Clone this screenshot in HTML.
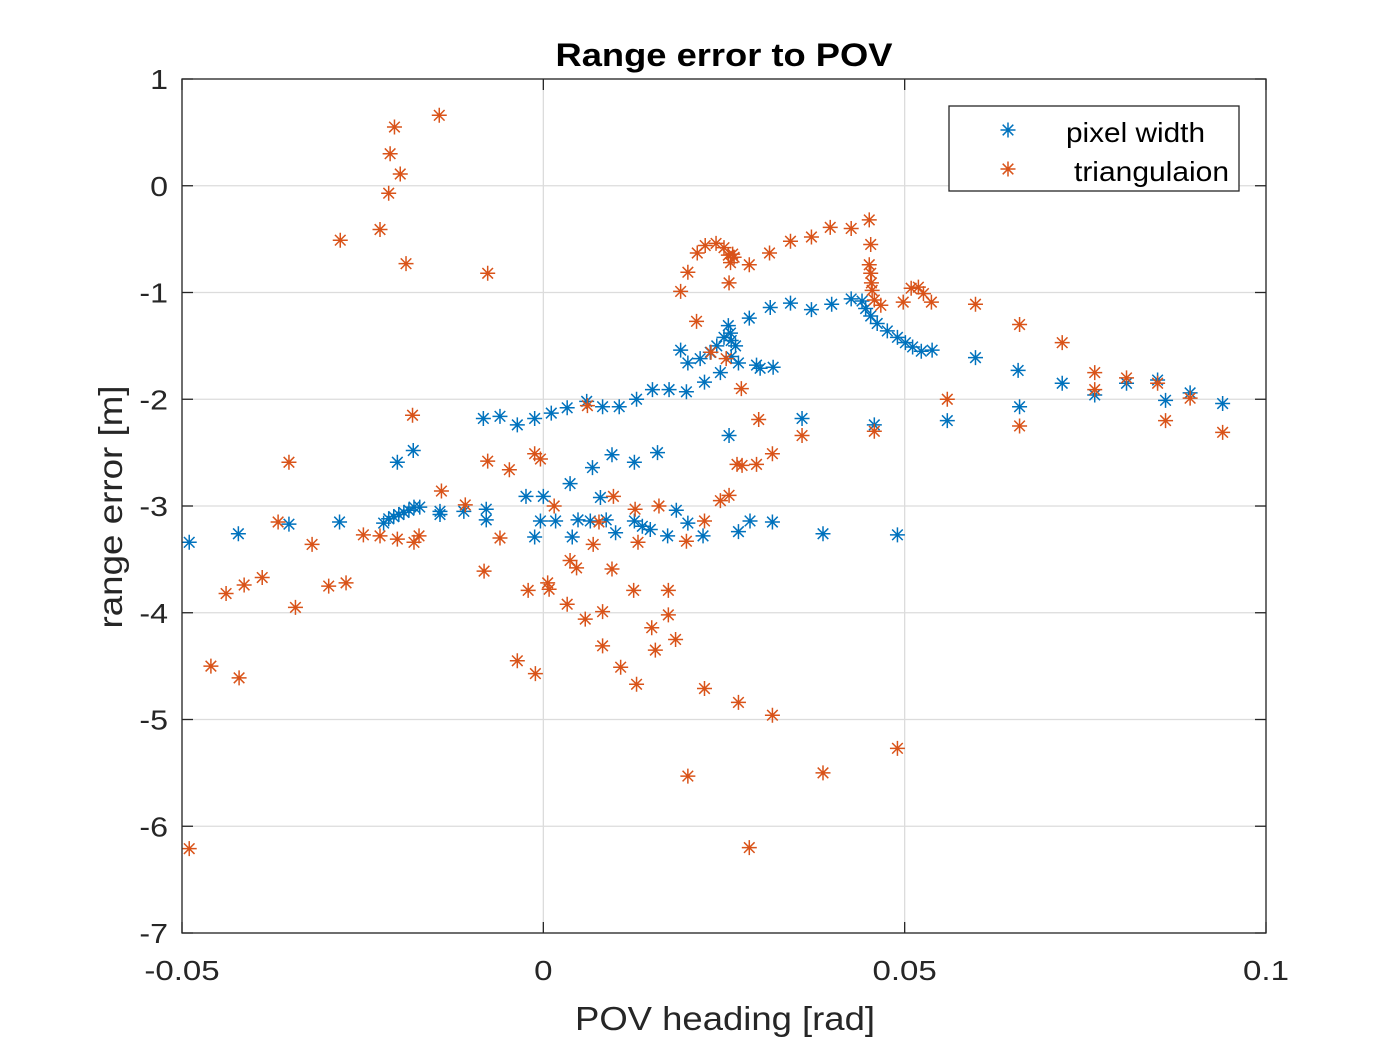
<!DOCTYPE html>
<html><head><meta charset="utf-8"><style>
html,body{margin:0;padding:0;background:#fff;}
svg{display:block;font-family:"Liberation Sans",Arial,sans-serif;}
</style></head><body>
<svg id="chart" width="1400" height="1050">
<rect x="0" y="0" width="1400" height="1050" fill="#fff"/>
<rect x="182" y="79" width="1084" height="854" fill="#fff" stroke="none"/>
<g id="grid"></g>
<g id="pts"></g>
<rect x="182" y="79" width="1084" height="854" fill="none" stroke="#262626" stroke-width="1.3"/>
<g id="ticks"></g>
<text x="724" y="66" text-anchor="middle" font-size="32" font-weight="bold" fill="#000" textLength="337" lengthAdjust="spacingAndGlyphs">Range error to POV</text>
<text x="725" y="1030" text-anchor="middle" font-size="33" fill="#262626" textLength="300" lengthAdjust="spacingAndGlyphs">POV heading [rad]</text>
<text transform="translate(122,507) rotate(-90)" text-anchor="middle" font-size="33" fill="#262626" textLength="243" lengthAdjust="spacingAndGlyphs">range error [m]</text>
<g>
<rect x="949" y="106" width="290" height="85" fill="#fff" stroke="#262626" stroke-width="1.3"/>
<g id="leg"></g>
<text x="1066" y="142" font-size="28" fill="#000" textLength="139" lengthAdjust="spacingAndGlyphs">pixel width</text>
<text x="1074" y="181" font-size="28" fill="#000" textLength="155" lengthAdjust="spacingAndGlyphs">triangulaion</text>
</g>
</svg>
<script>
const xTicks=[-0.05,0,0.05,0.1];
const xTickLabels=["-0.05","0","0.05","0.1"];
const yTicks=[1,0,-1,-2,-3,-4,-5,-6,-7];
const yTickLabels=["1","0","-1","-2","-3","-4","-5","-6","-7"];
const pixelX=[-0.049,-0.0422,-0.0352,-0.0282,-0.0221,-0.0214,-0.0207,-0.02,-0.0193,-0.0186,-0.0179,-0.0171,-0.0202,-0.018,-0.0143,-0.0143,-0.011,-0.0079,-0.0079,-0.0083,-0.006,-0.0036,-0.0012,0.0011,0.0033,0.006,0.0082,0.0105,0.0129,0.0151,0.0174,0.0198,0.019,0.02,0.0217,0.0223,0.0231,0.024,0.0245,0.025,0.0256,0.0259,0.026,0.0266,0.026,0.027,0.0285,0.0295,0.03,0.0314,0.0318,0.0342,0.0371,0.0399,0.0426,0.0441,0.0446,0.0453,0.0462,0.0476,0.049,0.0501,0.0511,0.0523,0.0538,0.0598,0.0657,0.0718,0.0763,0.0807,0.085,0.0861,0.0895,0.094,-0.0024,0,-0.0012,-0.0004,0.0017,0.0037,0.004,0.0048,0.0065,0.0068,0.0079,0.0087,0.0095,0.01,0.0126,0.0126,0.0137,0.0148,0.0158,0.0172,0.0184,0.02,0.0221,0.0257,0.027,0.0286,0.0317,0.0358,0.0387,0.0458,0.049,0.0559,0.0659];
const pixelY=[-3.34,-3.26,-3.17,-3.15,-3.16,-3.12,-3.1,-3.08,-3.06,-3.04,-3.01,-3.01,-2.59,-2.48,-3.05,-3.08,-3.05,-3.03,-3.13,-2.18,-2.16,-2.24,-2.18,-2.13,-2.08,-2.02,-2.07,-2.07,-2.0,-1.91,-1.91,-1.93,-1.54,-1.66,-1.62,-1.84,-1.56,-1.5,-1.75,-1.42,-1.31,-1.38,-1.45,-1.5,-1.6,-1.66,-1.24,-1.68,-1.71,-1.14,-1.7,-1.1,-1.16,-1.11,-1.06,-1.08,-1.15,-1.22,-1.29,-1.36,-1.42,-1.47,-1.51,-1.55,-1.54,-1.61,-1.73,-1.85,-1.96,-1.85,-1.82,-2.01,-1.94,-2.04,-2.91,-2.91,-3.29,-3.14,-3.14,-2.79,-3.29,-3.13,-3.14,-2.64,-2.92,-3.13,-2.52,-3.25,-2.59,-3.14,-3.19,-3.22,-2.5,-3.28,-3.04,-3.16,-3.28,-2.34,-3.24,-3.14,-3.15,-2.18,-3.26,-2.24,-3.27,-2.2,-2.07];
const triX=[-0.049,-0.046,-0.0421,-0.0439,-0.0414,-0.0389,-0.0367,-0.0352,-0.0343,-0.032,-0.0297,-0.0273,-0.0281,-0.0249,-0.0226,-0.0226,-0.0214,-0.0212,-0.0206,-0.0198,-0.0202,-0.019,-0.0181,-0.0179,-0.0172,-0.0141,-0.0144,-0.0108,-0.0077,-0.0082,-0.0077,-0.006,-0.0047,-0.0036,-0.0021,-0.0012,-0.0004,-0.0011,0.0006,0.0008,0.0015,0.0033,0.0037,0.0046,0.0058,0.0061,0.0069,0.0077,0.0082,0.0082,0.0097,0.0095,0.0107,0.0125,0.0127,0.0131,0.0129,0.015,0.0155,0.016,0.0173,0.0173,0.0183,0.019,0.02,0.0198,0.02,0.0212,0.0213,0.0224,0.0223,0.0223,0.0232,0.0239,0.0245,0.025,0.0253,0.0256,0.0259,0.0262,0.0264,0.0257,0.0257,0.0268,0.0274,0.027,0.0275,0.0285,0.0285,0.0295,0.0298,0.0313,0.0317,0.0317,0.0342,0.0358,0.0371,0.0387,0.0397,0.0426,0.0451,0.0453,0.0451,0.0453,0.0454,0.0455,0.0458,0.0458,0.0467,0.049,0.0498,0.0509,0.0519,0.0526,0.0537,0.0559,0.0598,0.0659,0.0659,0.0718,0.0763,0.0763,0.0807,0.085,0.0861,0.0895,0.094];
const triY=[-6.21,-4.5,-4.61,-3.82,-3.74,-3.67,-3.15,-2.59,-3.95,-3.36,-3.75,-3.72,-0.51,-3.27,-0.41,-3.28,-0.07,0.3,0.55,0.11,-3.31,-0.73,-2.15,-3.34,-3.28,-2.86,0.66,-2.99,-0.82,-3.61,-2.58,-3.3,-2.66,-4.45,-3.79,-2.51,-2.56,-4.57,-3.72,-3.78,-3.0,-3.92,-3.51,-3.58,-4.06,-2.06,-3.36,-3.15,-3.99,-4.31,-2.91,-3.59,-4.51,-3.79,-3.03,-3.34,-4.67,-4.14,-4.35,-3.0,-3.79,-4.02,-4.25,-0.99,-0.81,-3.33,-5.53,-1.27,-0.63,-0.56,-3.14,-4.71,-1.56,-0.54,-2.95,-0.58,-1.62,-0.65,-0.72,-0.64,-0.67,-0.91,-2.9,-2.61,-1.9,-4.84,-2.62,-0.74,-6.2,-2.61,-2.19,-0.63,-2.51,-4.96,-0.52,-2.34,-0.48,-5.5,-0.39,-0.4,-0.32,-0.55,-0.74,-0.82,-0.91,-0.98,-1.07,-2.3,-1.12,-5.27,-1.09,-0.96,-0.95,-1.01,-1.09,-2.0,-1.11,-1.3,-2.25,-1.47,-1.75,-1.91,-1.8,-1.85,-2.2,-1.99,-2.31];
const NS="http://www.w3.org/2000/svg";
const X0=182,X1=1266,Y0=933,Y1=79;
function sx(v){return X0+(v-(-0.05))/(0.1-(-0.05))*(X1-X0);}
function sy(v){return Y0-(v-(-7))/(1-(-7))*(Y0-Y1);}
function mk(tag,attrs,parent){const e=document.createElementNS(NS,tag);for(const k in attrs)e.setAttribute(k,attrs[k]);parent.appendChild(e);return e;}
function stretch(t,f){const w=t.getComputedTextLength();t.setAttribute('textLength',w*f);t.setAttribute('lengthAdjust','spacingAndGlyphs');}
const grid=document.getElementById('grid'),ticks=document.getElementById('ticks');
xTicks.forEach((t,i)=>{const x=sx(t);
 const g=mk('line',{x1:x,x2:x,y1:Y1,y2:Y0,stroke:'#dcdcdc','stroke-width':1.3},grid);
 
 
 mk('line',{x1:x,x2:x,y1:Y0,y2:Y0-11,stroke:'#262626','stroke-width':1.3},ticks);
 mk('line',{x1:x,x2:x,y1:Y1,y2:Y1+11,stroke:'#262626','stroke-width':1.3},ticks);
 const tx=mk('text',{x:x,y:980,'text-anchor':'middle','font-size':28,fill:'#262626'},ticks);
 tx.textContent=xTickLabels[i];
 
 
 stretch(tx,1.18);
});
yTicks.forEach((t,i)=>{const y=sy(t);
 const g=mk('line',{x1:X0,x2:X1,y1:y,y2:y,stroke:'#dcdcdc','stroke-width':1.3},grid);
 
 
 mk('line',{x1:X0,x2:X0+11,y1:y,y2:y,stroke:'#262626','stroke-width':1.3},ticks);
 mk('line',{x1:X1,x2:X1-11,y1:y,y2:y,stroke:'#262626','stroke-width':1.3},ticks);
 const tx=mk('text',{x:168,y:y+10,'text-anchor':'end','font-size':28,fill:'#262626'},ticks);
 tx.textContent=yTickLabels[i];
 
 
 stretch(tx,1.15);
});
function star(parent,x,y,c,name){
 const r=7.5,d=5.3;
 const p=mk('path',{d:`M${x-r},${y}H${x+r}M${x},${y-r}V${y+r}M${x-d},${y-d}L${x+d},${y+d}M${x-d},${y+d}L${x+d},${y-d}`,stroke:c,'stroke-width':1.5,fill:'none'},parent);
 
 
}
const pts=document.getElementById('pts');
pixelX.forEach((v,i)=>star(pts,sx(v),sy(pixelY[i]),'#0072bd','pixel-width-point'));
triX.forEach((v,i)=>star(pts,sx(v),sy(triY[i]),'#d95319','triangulation-point'));
const leg=document.getElementById('leg');
star(leg,1008,130,'#0072bd','legend-marker-pixel-width');
star(leg,1008,169,'#d95319','legend-marker-triangulation');
</script>
</body></html>
